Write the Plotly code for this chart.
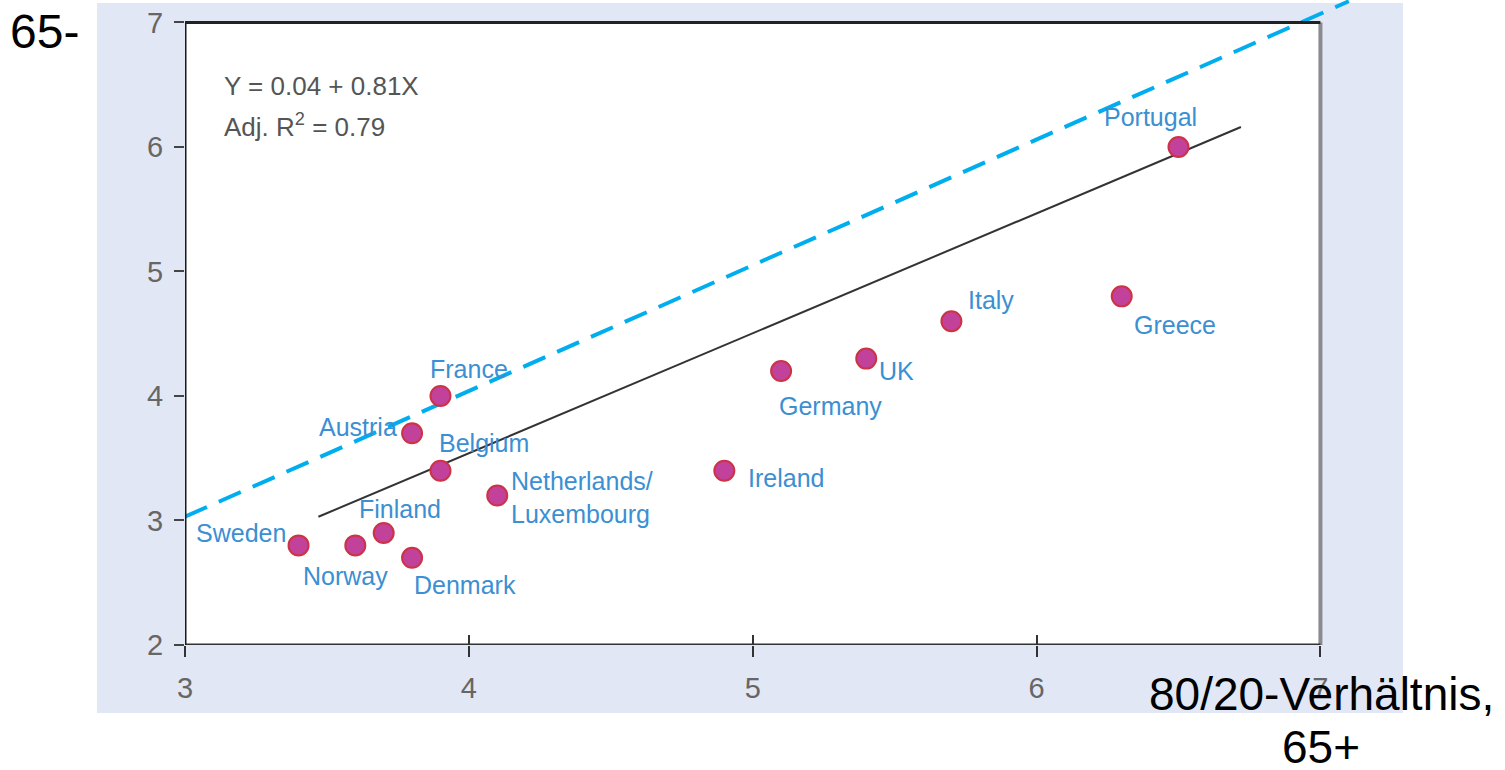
import plotly.graph_objects as go

# ---------------- data ----------------
countries = ["Sweden", "Norway", "Finland", "Denmark", "Austria", "Belgium", "France",
             "Netherlands/<br>Luxembourg", "Ireland", "Germany", "UK", "Italy", "Greece", "Portugal"]
ratio_all = [3.4, 3.6, 3.7, 3.8, 3.8, 3.9, 3.9, 4.1, 4.9, 5.1, 5.4, 5.7, 6.3, 6.5]
ratio_65 = [2.8, 2.8, 2.9, 2.7, 3.7, 3.4, 4.0, 3.2, 3.4, 4.2, 4.3, 4.6, 4.8, 6.0]

diag_x = [3.0, 7.1]
diag_y = [3.03, 7.17]

fit_x = [3.47, 6.72]
fit_y = [3.03, 6.16]

x_ticks = [3, 4, 5, 6, 7]
y_ticks = [2, 3, 4, 5, 6, 7]
x_lim = [3, 7]
y_lim = [2, 7]

eq_line1 = "Y = 0.04 + 0.81X"
eq_line2 = "Adj. R<sup>2</sup> = 0.79"
x_title_1 = "80/20-Verhältnis,"
x_title_2 = "65+"
y_title = "65-"

# ---------------- styles ----------------
LAV = "#e1e7f5"
LABEL_BLUE = "#3b8fd2"
FONT = "Liberation Sans, Arial, sans-serif"

# label offsets in pixels (dx, dy downwards positive), anchor
label_style = {
    "Sweden": (-58, -12, "center"),
    "Norway": (-10, 31, "center"),
    "Finland": (16, -24, "center"),
    "Denmark": (53, 27, "center"),
    "Austria": (-54, -6, "center"),
    "Belgium": (44, -28, "center"),
    "France": (29, -27, "center"),
    "Netherlands/<br>Luxembourg": (12, 2, "left"),
    "Ireland": (62, 7, "center"),
    "Germany": (49, 35, "center"),
    "UK": (30, 12, "center"),
    "Italy": (40, -21, "center"),
    "Greece": (53, 29, "center"),
    "Portugal": (-28, -30, "center"),
}

L, R, T, B = 185, 142, 0, 125
W, H = 1505, 770
X_RANGE = [3, 7.15]
Y_RANGE = [2, 7.18]
pw, ph = W - L - R, H - T - B


def px_to_paper_x(px):
    return (px - L) / pw


def px_to_paper_y(py):
    return (H - B - py) / ph


fig = go.Figure()

# 45-degree dashed line
fig.add_trace(go.Scatter(x=diag_x, y=diag_y, mode="lines",
                         line=dict(color="#00aeef", width=4, dash="24px,13px"),
                         hoverinfo="skip", showlegend=False))
# regression line
fig.add_trace(go.Scatter(x=fit_x, y=fit_y, mode="lines",
                         line=dict(color="#333333", width=2),
                         hoverinfo="skip", showlegend=False))
# points
fig.add_trace(go.Scatter(x=ratio_all, y=ratio_65, mode="markers",
                         marker=dict(size=20, color="#c2419a",
                                     line=dict(color="#cc3344", width=2)),
                         text=countries, showlegend=False))
# dummy for overlay axis
fig.add_trace(go.Scatter(x=[], y=[], xaxis="x2", showlegend=False))

annotations = []
for c, xv, yv in zip(countries, ratio_all, ratio_65):
    dx, dy, anc = label_style[c]
    annotations.append(dict(x=xv, y=yv, xref="x", yref="y", text=c, showarrow=False,
                            xshift=dx, yshift=-dy, xanchor=anc, yanchor="middle",
                            align="left",
                            font=dict(family=FONT, size=25, color=LABEL_BLUE)))

annotations += [
    dict(x=px_to_paper_x(222), y=px_to_paper_y(86), xref="paper", yref="paper",
         text=eq_line1, showarrow=False, xanchor="left", yanchor="middle",
         font=dict(family=FONT, size=26, color="#555555")),
    dict(x=px_to_paper_x(222), y=px_to_paper_y(125), xref="paper", yref="paper",
         text=eq_line2, showarrow=False, xanchor="left", yanchor="middle",
         font=dict(family=FONT, size=26, color="#555555")),
    dict(x=px_to_paper_x(8), y=px_to_paper_y(31), xref="paper", yref="paper",
         text=y_title, showarrow=False, xanchor="left", yanchor="middle",
         font=dict(family=FONT, size=48, color="#000000")),
    dict(x=px_to_paper_x(1321), y=px_to_paper_y(694), xref="paper", yref="paper",
         text=x_title_1, showarrow=False, xanchor="center", yanchor="middle",
         font=dict(family=FONT, size=46, color="#000000")),
    dict(x=px_to_paper_x(1321), y=px_to_paper_y(747), xref="paper", yref="paper",
         text=x_title_2, showarrow=False, xanchor="center", yanchor="middle",
         font=dict(family=FONT, size=46, color="#000000")),
]

shapes = [
    # lavender panel
    dict(type="rect", xref="paper", yref="paper",
         x0=px_to_paper_x(97), x1=px_to_paper_x(1403),
         y0=px_to_paper_y(713), y1=px_to_paper_y(3),
         fillcolor=LAV, line=dict(width=0), layer="below"),
    # white plotting box
    dict(type="rect", xref="x", yref="y", x0=x_lim[0], x1=x_lim[1], y0=y_lim[0], y1=y_lim[1],
         fillcolor="white", line=dict(width=0), layer="below"),
    # frame lines
    dict(type="line", xref="x", yref="y", x0=x_lim[1], x1=x_lim[1], y0=y_lim[0], y1=y_lim[1],
         line=dict(color="#8a8a90", width=4), layer="above"),
    dict(type="line", xref="x", yref="y", x0=x_lim[0], x1=x_lim[1], y0=y_lim[1], y1=y_lim[1],
         line=dict(color="#222222", width=3), layer="above"),
    dict(type="line", xref="x", yref="y", x0=x_lim[0], x1=x_lim[1], y0=y_lim[0], y1=y_lim[0],
         line=dict(color="#333333", width=3), layer="above"),
    dict(type="line", xref="x", yref="y", x0=x_lim[0], x1=x_lim[0], y0=y_lim[0], y1=y_lim[1],
         line=dict(color="#1a1a1a", width=3), layer="above"),
]

fig.update_layout(
    width=W, height=H,
    margin=dict(l=L, r=R, t=T, b=B, pad=0),
    paper_bgcolor="white",
    plot_bgcolor="rgba(0,0,0,0)",
    showlegend=False,
    annotations=annotations,
    shapes=shapes,
    xaxis=dict(range=X_RANGE, tickvals=x_ticks, ticks="outside", ticklen=11, tickwidth=2,
               tickcolor="#333333", showgrid=False, zeroline=False, showline=False,
               tickfont=dict(family=FONT, size=29, color="#666666"),
               ticklabelstandoff=6),
    xaxis2=dict(range=X_RANGE, tickvals=x_ticks, ticks="inside", ticklen=10, tickwidth=2,
                tickcolor="#333333", showgrid=False, zeroline=False, showline=False,
                showticklabels=False, overlaying="x", anchor="y", side="bottom"),
    yaxis=dict(range=Y_RANGE, tickvals=y_ticks, ticks="outside", ticklen=10, tickwidth=2,
               tickcolor="#444444", showgrid=False, zeroline=False, showline=False,
               tickfont=dict(family=FONT, size=29, color="#666666"),
               ticklabelstandoff=5),
)

fig.write_html("out.html")
